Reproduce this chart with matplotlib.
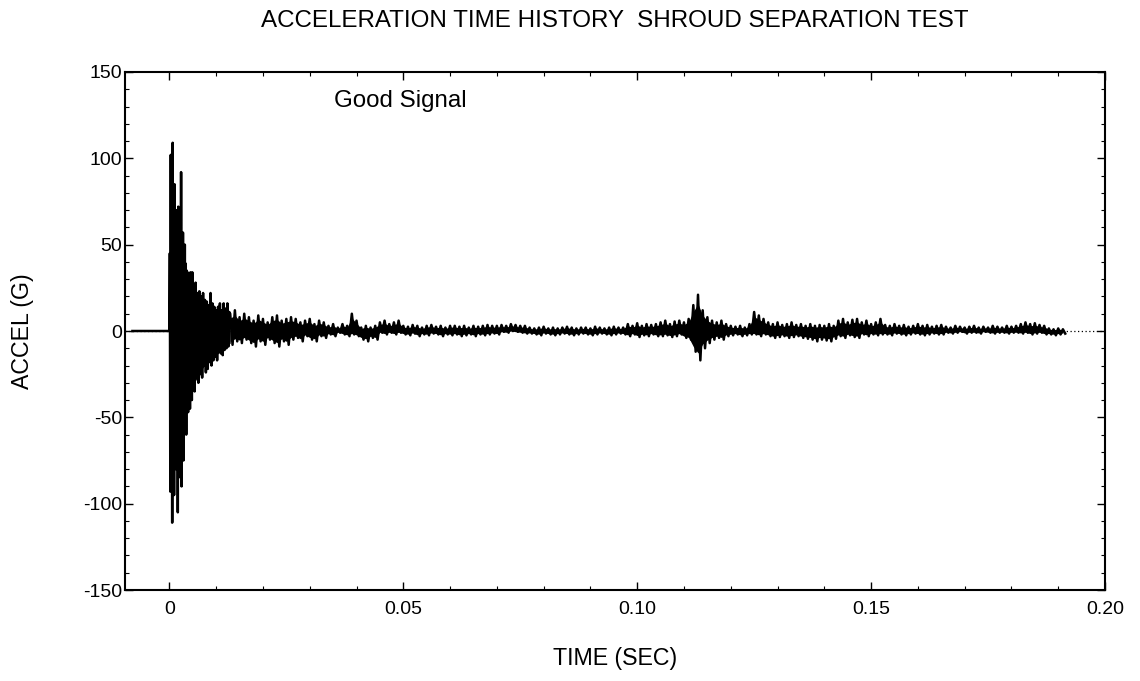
import numpy as np
import matplotlib
matplotlib.use("Agg")
import matplotlib.pyplot as plt
from matplotlib.ticker import MultipleLocator

plt.rcParams['font.family'] = ['Liberation Sans', 'DejaVu Sans']
plt.rcParams['axes.unicode_minus'] = False

# pre-trigger sample, then the pyro shock burst read peak by peak (ms, G)
pre_t = [-7.9]
pre_g = [0]
burst_t1 = np.linspace(0.0, 5.0, 51)      # 0.1 ms apart
burst_g1 = [0, 45, -93, 102, -70, 60, -111, 109, -60, 55,
            -95, 85, -55, 50, -80, 70, -50, 55, -105, 72,
            -50, 50, -70, 60, -85, 92, -90, 45, -60, 57,
            -75, 40, -45, 50, -56, 39, -60, 35, -40, 34,
            -47, 30, -35, 32, -45, 34, -30, 28, -40, 34, -30]
burst_t2 = np.linspace(5.2, 12.8, 39)     # 0.2 ms apart
burst_g2 = [25, -35, 28, -27, 22, -30, 23, -25, 20, -27,
            22, -20, 18, -24, 17, -22, 15, -18, 22, -20,
            16, -17, 14, -15, 12, -17, 14, -12, 16, -13,
            12, -14, 16, -11, 13, -10, 16, -9, 11]

# solid black core of the burst (where the trace is denser than a pixel)
core_t = [0, 0.3, 1, 2, 3, 4, 5, 6.5, 8, 10, 13]
core_hi = [0, 45, 55, 50, 40, 30, 25, 18, 15, 12, 9]
core_lo = [0, -60, -70, -65, -55, -42, -32, -24, -18, -14, -7]

# after the burst: upper / lower extremes in each 1 ms, 13 ms .. 191 ms
env_t = np.arange(13, 192)
env_hi = [10, 12, 8, 10,
          8, 6, 9, 7, 5, 8, 9, 6, 7, 8,
          7, 5, 6, 7, 4, 6, 5,
          3, 4, 2, 4, 3,
          10, 6,
          2, 3, 2, 3,
          5, 6, 4, 5, 6,
          3, 2.5, 3.5, 3, 2, 3, 3.5, 2.5, 3, 2, 3,
          3, 2.5, 3, 2, 3, 2.5, 3, 3.5, 3, 3,
          3.5, 3, 4, 3.5, 3, 3,
          2, 1.5, 2, 2.5, 1.5, 2, 1.5, 2, 2.5, 2, 1.5, 2, 2, 1.5, 2.5, 2, 1.5, 2, 2.5, 2, 2,
          4, 3, 4.5, 3, 4, 3.5, 4,
          5, 6, 4, 5.5, 6, 5, 7,
          15, 21, 12,
          8, 6, 5, 6, 4,
          3, 2.5, 3, 2, 4,
          11, 9, 7,
          5, 4, 5, 3.5, 4, 5, 3.5, 4, 3,
          4, 3, 3.5, 3, 4, 3,
          6, 7, 5, 6.5, 7, 5, 6, 4, 5, 7,
          3.5, 3, 4, 3, 3.5, 2.5, 3, 4, 3, 3.5, 2.5, 3, 3.5,
          2.5, 2, 3, 2.5, 2, 2.5, 3, 2, 2.5, 2, 3, 2.5, 2, 3, 2.5, 3,
          4, 5, 4, 4.5, 3.5, 3,
          1.5, 1, 1.5, 1]
env_lo = [-8, -6, -7, -5,
          -7, -9, -6, -8, -5, -7, -9, -6, -8, -5,
          -4, -6, -3, -5, -6, -3, -4,
          -2, -3, -1, -2, -3,
          -2, -3,
          -5, -6, -4, -5,
          -1, -2, -1, -2, -1,
          -2, -2.5, -1.5, -3, -2, -2.5, -1.5, -2, -3, -2, -2.5,
          -2, -3, -2.5, -2, -3, -2, -2.5, -2, -1.5, -2,
          -0.5, -1, 0, -0.5, -1, -1.5,
          -1.5, -2, -2.5, -1.5, -2, -2.5, -2, -1.5, -2, -2.5, -2, -1.5, -2, -2.5, -2, -1.5, -2, -2.5, -2, -1.5, -2,
          -3, -2, -3.5, -2.5, -3, -2, -3,
          -3, -2.5, -3.5, -3, -2, -4, -5,
          -12, -17, -10,
          -7, -5, -4, -5, -3,
          -2.5, -2, -3, -2.5, -2,
          -2, -3, -2,
          -3, -4, -3.5, -3, -4, -3.5, -3, -4, -4.5,
          -5, -6, -5, -5.5, -6, -4.5,
          -3, -4, -2.5, -3.5, -4, -2, -3, -2, -2.5, -2,
          -2, -2.5, -1.5, -2, -2.5, -2, -1.5, -2, -2.5, -2, -1.5, -2, -2,
          -1, -1.5, -1, -0.5, -1.5, -1, -1, -1.5, -0.5, -1, -1.5, -1, -1, -1.5, -1, -1,
          -1.5, -1, -2, -1.5, -1, -2,
          -2, -2.5, -2, -1.5]

x_ticks = [0, 0.05, 0.10, 0.15, 0.20]
x_tick_labels = ["0", "0.05", "0.10", "0.15", "0.20"]
y_ticks = [-150, -100, -50, 0, 50, 100, 150]

# hi at each ms, lo half a ms later -> the oscillation band
zz_t = np.column_stack([env_t, env_t + 0.5]).ravel()
zz_g = np.column_stack([env_hi, env_lo]).ravel()
t = np.concatenate([pre_t, burst_t1, burst_t2, zz_t]) / 1000.0
g = np.concatenate([pre_g, burst_g1, burst_g2, zz_g])

fig = plt.figure(figsize=(11.4, 6.81), dpi=100)
ax = fig.add_axes([0.1096, 0.1336, 0.8597, 0.7607])

ax.axhline(0, color='black', lw=0.9, ls=(0, (1, 2)), zorder=1)
ax.fill_between(np.array(core_t) / 1000.0, core_lo, core_hi, color='black', lw=0, zorder=2)
# most of the band is solid, the zigzag tips give the ragged edge
ax.fill_between(env_t / 1000.0, 0.75 * np.array(env_lo), 0.75 * np.array(env_hi),
                color='black', lw=0, zorder=2)
ax.plot(t, g, color='black', lw=1.8, zorder=3)

ax.set_xlim(-0.0095, 0.1995)
ax.set_ylim(-150, 150)
ax.set_xticks(x_ticks)
ax.set_xticklabels(x_tick_labels)
ax.set_yticks(y_ticks)
ax.xaxis.set_minor_locator(MultipleLocator(0.01))
ax.yaxis.set_minor_locator(MultipleLocator(10))
ax.tick_params(which='both', direction='in', top=True, right=True, labelsize=14)
ax.tick_params(axis='x', which='major', pad=8)
ax.tick_params(axis='y', which='major', pad=2)
ax.tick_params(which='major', length=6, width=1)
ax.tick_params(which='minor', length=3, width=0.8)
for s in ax.spines.values():
    s.set_linewidth(1.5)

fig.text(0.5395, 1 - 21 / 681, "ACCELERATION TIME HISTORY  SHROUD SEPARATION TEST",
         fontsize=17.4, ha='center', va='center')
fig.text(0.5395, 1 - 658 / 681, "TIME (SEC)", fontsize=16.7, ha='center', va='center')
fig.text(22 / 1140, 0.5138, "ACCEL (G)", fontsize=16.7, ha='center', va='center',
         rotation=90)
ax.text(0.0351, 133, "Good Signal", fontsize=17.4, ha='left', va='center')

fig.savefig("out.png", dpi=100)
